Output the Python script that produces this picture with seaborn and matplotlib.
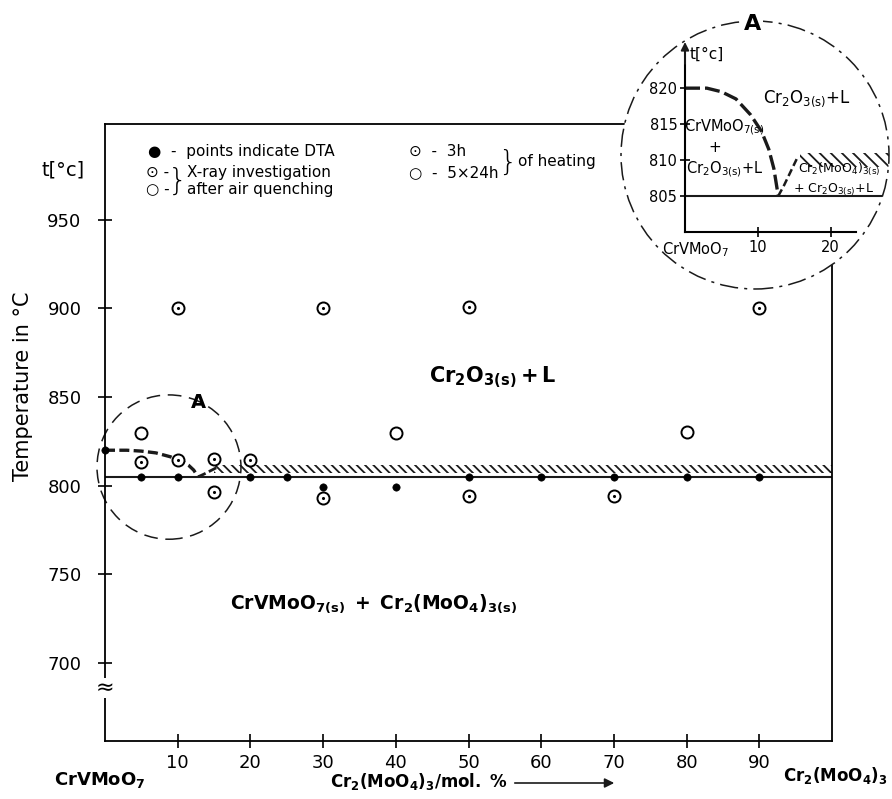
import numpy as np
import pandas as pd
import matplotlib
matplotlib.use('Agg')
import matplotlib.pyplot as plt
import seaborn as sns
from matplotlib.patches import Ellipse

# values (x = mol % Cr2(MoO4)3, t = temperature in C)
dta_x = [0, 5, 10, 20, 25, 30, 40, 50, 60, 70, 80, 90]
dta_t = [820, 805, 805, 805, 805, 799.5, 799, 805, 805, 805, 805, 805]

xray_3h_x = [5, 10, 15, 20, 15, 30, 50, 70, 10, 30, 50, 90]
xray_3h_t = [813.5, 814.5, 815, 814.5, 796.5, 793, 794, 794, 900, 900, 901, 900]

xray_5d_x = [5, 40, 80]
xray_5d_t = [830, 830, 830.5]

liquidus_x = [0, 3, 5, 7, 9, 10.5, 11.5, 12.2, 12.8]
liquidus_t = [820, 820, 819.5, 818.5, 816.3, 814, 811.5, 808.8, 805]
peritectic_x = [12.8, 13.6, 15.5]
peritectic_t = [805, 806.5, 810.5]

solidus_x = [0, 100]
solidus_t = [805, 805]

hatch_x = [15, 100]
hatch_lo = [807, 807]
hatch_hi = [811.5, 811.5]

inset_hatch_x = [15.8, 28]
inset_hatch_lo = [809, 809]
inset_hatch_hi = [811, 811]

x_ticks = [10, 20, 30, 40, 50, 60, 70, 80, 90]
y_ticks = [700, 750, 800, 850, 900, 950]
inset_x_ticks = [10, 20]
inset_y_ticks = [805, 810, 815, 820]

pts = pd.concat([
    pd.DataFrame({'x': dta_x, 't': dta_t, 'kind': 'DTA'}),
    pd.DataFrame({'x': xray_3h_x, 't': xray_3h_t, 'kind': '3h'}),
    pd.DataFrame({'x': xray_5d_x, 't': xray_5d_t, 'kind': '5x24h'}),
])

sns.set_theme(style='ticks', rc={'axes.edgecolor': 'black', 'axes.linewidth': 1.3,
                                 'xtick.color': 'black', 'ytick.color': 'black',
                                 'text.color': 'black', 'axes.labelcolor': 'black'})
plt.rcParams['font.family'] = ['DejaVu Sans']
plt.rcParams['mathtext.default'] = 'regular'
plt.rcParams['hatch.linewidth'] = 1.3

W, H = 892, 799
fig = plt.figure(figsize=(W / 100, H / 100), dpi=100)
ax = fig.add_axes([105 / W, (H - 741) / H, 727 / W, 617 / H])
ax.set_xlim(0, 100)
ax.set_ylim(656, 1004)

# phase boundaries
ax.plot(solidus_x, solidus_t, color='k', lw=1.5)
ax.fill_between(hatch_x, hatch_lo, hatch_hi, facecolor='none', edgecolor='k',
                hatch='\\\\\\\\', linewidth=0)
ax.plot(liquidus_x, liquidus_t, color='k', lw=2.4, dashes=(3, 1.3))
ax.plot(peritectic_x, peritectic_t, color='k', lw=2.0, dashes=(3, 1.3))

# measured points
d = pts[pts.kind == 'DTA']
sns.scatterplot(data=d, x='x', y='t', color='black', edgecolor='black', s=28,
                ax=ax, zorder=4, clip_on=False)
d = pts[pts.kind == '5x24h']
sns.scatterplot(data=d, x='x', y='t', color='white', edgecolor='black', s=75,
                linewidth=1.4, ax=ax, zorder=4)
d = pts[pts.kind == '3h']
sns.scatterplot(data=d, x='x', y='t', color='white', edgecolor='black', s=75,
                linewidth=1.4, ax=ax, zorder=4)
sns.scatterplot(data=d, x='x', y='t', color='black', edgecolor='black', s=5,
                linewidth=0, ax=ax, zorder=5)

# circle "A"
ax.add_patch(Ellipse((8.8, 810.5), 19.8, 81.4, fill=False, edgecolor='k',
                     lw=1.1, ls=(0, (9, 5)), clip_on=False))
ax.text(12.8, 847, 'A', fontsize=14, fontweight='bold', ha='center', va='center')

ax.set_xticks(x_ticks)
ax.set_yticks(y_ticks)
ax.tick_params(direction='inout', length=10, width=1.2, labelsize=13)
ax.tick_params(axis='y', pad=12)
ax.tick_params(axis='x', pad=4)
ax.set_xlabel('')
ax.set_ylabel('Temperature in °C', fontsize=15)
ax.yaxis.set_label_coords(-0.099, 0.575)
ax.text(-0.058, 0.925, 't[°c]', transform=ax.transAxes, ha='center', va='center',
        fontsize=14)
ax.text(0, 686, '≈', ha='center', va='center', fontsize=16,
        bbox=dict(facecolor='white', edgecolor='none', pad=0), clip_on=False)

# phase labels
ax.text(53.4, 861, r'$\mathbf{Cr_2O_{3(s)}+L}$', fontsize=15, ha='center', va='center')
ax.text(37, 733.5, r'$\mathbf{CrVMoO_{7(s)}\ +\ Cr_2(MoO_4)_{3(s)}}$', fontsize=13.5,
        ha='center', va='center')

# hand-written legend
lf = 11
ax.text(5.9, 988.4, '●  -  points indicate DTA', fontsize=lf, va='center')
ax.text(5.6, 976.6, '⊙ -', fontsize=lf, va='center')
ax.text(5.6, 967, '○ -', fontsize=lf, va='center')
ax.text(10.0, 971.5, '}', fontsize=22, va='center', ha='center', fontweight='light')
ax.text(11.3, 976.6, 'X-ray investigation', fontsize=lf, va='center')
ax.text(11.3, 967, 'after air quenching', fontsize=lf, va='center')
ax.text(41.8, 988.4, '⊙  -  3h', fontsize=lf, va='center')
ax.text(41.8, 976.6, '○  -  5×24h', fontsize=lf, va='center')
ax.text(55.4, 982, '}', fontsize=21, va='center', ha='center', fontweight='light')
ax.text(56.8, 983, 'of heating', fontsize=lf, va='center')

# labels under the axis
fig.text(100 / W, 1 - 780 / H, r'$\mathbf{CrVMoO_7}$', fontsize=13, ha='center', va='center')
fig.text(330 / W, 1 - 782 / H, r'$\mathbf{Cr_2(MoO_4)_3/mol.\ \%}$', fontsize=12,
         ha='left', va='center')
fig.text(888 / W, 1 - 776 / H, r'$\mathbf{Cr_2(MoO_4)_3}$', fontsize=12, ha='right', va='center')
fig.add_artist(matplotlib.patches.FancyArrowPatch(
    (512 / W, 1 - 783 / H), (617 / W, 1 - 783 / H), transform=fig.transFigure,
    arrowstyle='-|>', mutation_scale=14, color='k', lw=1.2))

# enlarged detail "A"
iax = fig.add_axes([685 / W, (H - 232) / H, 204 / W, 187 / H])
iax.patch.set_visible(False)
iax.set_xlim(0, 28)
iax.set_ylim(800, 826)
circ = Ellipse((755 / W, 1 - 155 / H), 268 / W, 268 / H, transform=fig.transFigure,
               facecolor='white', edgecolor='k', lw=1.1, ls=(0, (12, 4, 2, 4)),
               zorder=0, clip_on=False)
iax.add_patch(circ)
for s in ['top', 'right']:
    iax.spines[s].set_visible(False)
iax.spines['left'].set_bounds(800, 825.5)
iax.spines['bottom'].set_bounds(0, 23.5)
iax.spines['left'].set_linewidth(1.5)
iax.spines['bottom'].set_linewidth(1.5)
iax.annotate('', xy=(0, 826.8), xytext=(0, 823), xycoords='data',
             arrowprops=dict(arrowstyle='-|>', color='k', lw=1.3, mutation_scale=12),
             annotation_clip=False)
iax.set_xticks(inset_x_ticks)
iax.set_yticks(inset_y_ticks)
iax.tick_params(direction='inout', length=7, width=1.2, labelsize=10.5, pad=2)

lines = [
    iax.plot(solidus_x, solidus_t, color='k', lw=1.5)[0],
    iax.plot(liquidus_x, liquidus_t, color='k', lw=2.4, dashes=(4.5, 1.5))[0],
    iax.plot(peritectic_x, peritectic_t, color='k', lw=1.8, dashes=(3, 1.5))[0],
    iax.fill_between(inset_hatch_x, inset_hatch_lo, inset_hatch_hi, facecolor='none',
                     edgecolor='k', hatch='\\\\\\', linewidth=0),
]
for ln in lines:
    ln.set_clip_path(circ)

iax.text(3.0, 824.7, 't[°c]', fontsize=11, ha='center', va='center')
iax.text(9.3, 828.9, 'A', fontsize=16, fontweight='bold', ha='center', va='center',
         bbox=dict(facecolor='white', edgecolor='none', pad=1))
iax.text(1.4, 797.5, r'CrVMoO$_7$', fontsize=10.5, ha='center', va='center')
iax.text(16.8, 818.5, r'Cr$_2$O$_{3(s)}$+L', fontsize=12, ha='center', va='center')
iax.text(5.4, 814.6, r'CrVMoO$_{7(s)}$', fontsize=10.5, ha='center', va='center')
iax.text(4.1, 811.8, '+', fontsize=11, ha='center', va='center')
iax.text(5.4, 808.8, r'Cr$_2$O$_{3(s)}$+L', fontsize=10.5, ha='center', va='center')
iax.text(21.1, 808.7, r'Cr$_2$(MoO$_4$)$_{3(s)}$', fontsize=9, ha='center', va='center')
iax.text(20.4, 805.9, r'+ Cr$_2$O$_{3(s)}$+L', fontsize=9, ha='center', va='center')

fig.savefig('out.png', dpi=100)
